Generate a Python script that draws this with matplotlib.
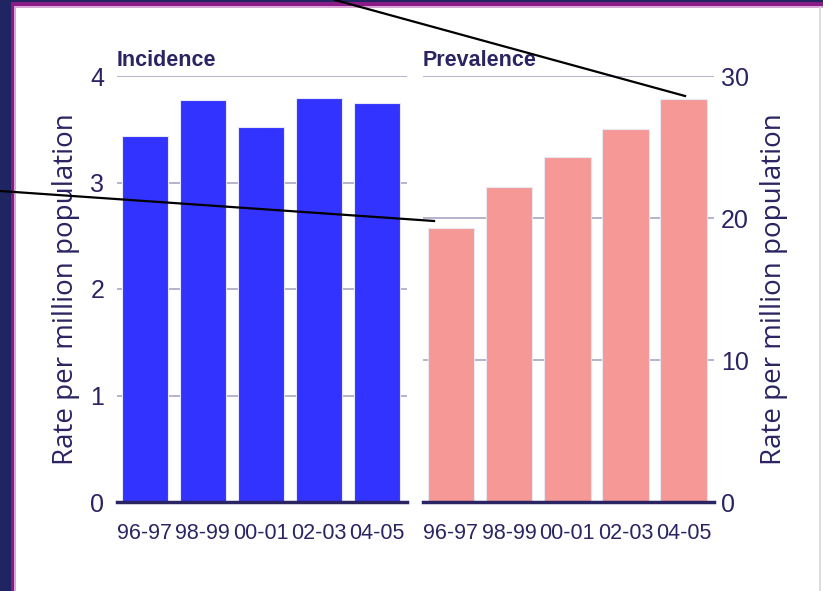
import numpy as np
import matplotlib
matplotlib.use("Agg")
import matplotlib.pyplot as plt
from matplotlib.patches import Rectangle
from matplotlib.lines import Line2D

periods = ["96-97", "98-99", "00-01", "02-03", "04-05"]
incidence = [3.44, 3.77, 3.52, 3.79, 3.75]
prevalence = [19.3, 22.2, 24.3, 26.3, 28.4]
incidence_ticks = [0, 1, 2, 3, 4]
prevalence_ticks = [0, 10, 20, 30]

NAVY = "#2a2462"
GRID = "#a9a5c4"
W, H = 823, 591

plt.rcParams["font.family"] = ["Liberation Sans", "DejaVu Sans"]

fig = plt.figure(figsize=(W / 100, H / 100), dpi=100)
fig.patch.set_facecolor("white")


def px_axes(x0, x1, y0, y1):
    return fig.add_axes([x0 / W, 1 - y1 / H, (x1 - x0) / W, (y1 - y0) / H])


def draw_panel(ax, values, ticks, color, title):
    x = np.arange(len(values))
    ax.bar(x, values, width=0.8, color=color, edgecolor="#e8e8f4",
           linewidth=0.8, zorder=3)
    ax.set_ylim(0, ticks[-1])
    ax.set_xlim(-0.48, len(values) - 0.48)
    ax.set_yticks(ticks)
    ax.set_xticks(x)
    ax.set_xticklabels(periods, fontsize=15.5, color=NAVY)
    for t in ticks[1:]:
        ax.axhline(t, color=GRID, lw=1.2, zorder=1)
    for s in ["top", "left", "right"]:
        ax.spines[s].set_visible(False)
    ax.spines["bottom"].set_color(NAVY)
    ax.spines["bottom"].set_linewidth(2.5)
    ax.spines["bottom"].set_zorder(4)
    ax.tick_params(axis="x", length=0, pad=15)
    ax.tick_params(axis="y", length=0, labelsize=18, labelcolor=NAVY)
    ax.text(0, 1.012, title, transform=ax.transAxes, fontsize=15.5,
            fontweight="bold", color=NAVY, ha="left", va="bottom")


ax1 = px_axes(117, 407, 76, 502)
draw_panel(ax1, incidence, incidence_ticks, "#3333ff", "Incidence")
ax1.tick_params(axis="y", pad=9)

ax2 = px_axes(423, 714, 76, 502)
draw_panel(ax2, prevalence, prevalence_ticks, "#f59896", "Prevalence")
ax2.yaxis.tick_right()
ax2.tick_params(axis="y", pad=5)

# axis titles on both sides
for xc in (66, 774):
    fig.text(xc / W, 1 - 289 / H, "Rate per million population",
             family="Open Sans", fontsize=20, color=NAVY, rotation=90,
             ha="center", va="center")

# page frame: dark band on the left, purple rule along the top
frame = [
    (0, 0, 11, H, "#1f2560"),
    (0, 0, W, 2, "#1f2560"),
    (11, 2, 3, H, "#8a1a85"),
    (11, 2, W, 4, "#8a1a85"),
    (14, 6, 1.5, H, "#d9a8d6"),
    (14, 6, W, 1.5, "#d9a8d6"),
    (819, 7, 1.5, H, "#dcdcdc"),
]
for x0, y0, w, h, c in frame:
    fig.add_artist(Rectangle((x0 / W, 1 - (y0 + h) / H), w / W, h / H,
                             transform=fig.transFigure, color=c, lw=0,
                             zorder=10))

# leader lines
for (xa, ya), (xb, yb) in [((0, 191), (434, 221)), ((335, 0), (685, 96))]:
    fig.add_artist(Line2D([xa / W, xb / W], [1 - ya / H, 1 - yb / H],
                          transform=fig.transFigure, color="black",
                          lw=1.6, zorder=11))

fig.savefig("out.png", dpi=100)
